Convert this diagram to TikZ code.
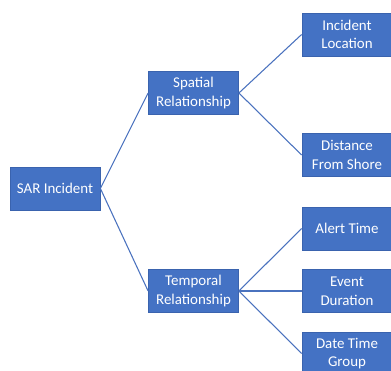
\documentclass[tikz,border=0pt]{standalone}
\usepackage{fontspec}
\setmainfont{Carlito}
\definecolor{boxblue}{HTML}{4472C4}
\definecolor{boxedge}{HTML}{3A63AE}
\definecolor{linkblue}{HTML}{4A72BE}
\begin{document}
\begin{tikzpicture}[x=0.75pt,y=-0.75pt,
  box/.style={draw=boxedge,fill=boxblue,line width=0.6pt,text=white,
    minimum width=67.5pt,minimum height=32.25pt,inner sep=0pt,
    align=center,font=\fontsize{11.2pt}{14pt}\selectfont},
  leaf/.style={box,minimum width=67.5pt},
  link/.style={draw=linkblue,line width=0.8pt}]
\useasboundingbox (0,0) rectangle (391,370);
\clip (0,0) rectangle (391,370);
\node[box] (sar) at (55,188.5) {SAR Incident};
\node[box] (spa) at (193.5,93) {Spatial\\Relationship};
\node[box] (tem) at (193.5,291) {Temporal\\Relationship};
\node[leaf] (loc) at (347,34.5) {Incident\\Location};
\node[leaf] (dis) at (347,155) {Distance\\From Shore};
\node[leaf] (ale) at (347,228.5) {Alert Time};
\node[leaf] (eve) at (347,291) {Event\\Duration};
\node[leaf] (dat) at (347,353.5) {Date Time\\Group};
\draw[link] (sar.east) -- (spa.west);
\draw[link] (sar.east) -- (tem.west);
\draw[link] (spa.east) -- (loc.west);
\draw[link] (spa.east) -- (dis.west);
\draw[link] (tem.east) -- (ale.west);
\draw[link] (tem.east) -- (eve.west);
\draw[link] (tem.east) -- (dat.west);
\end{tikzpicture}
\end{document}
